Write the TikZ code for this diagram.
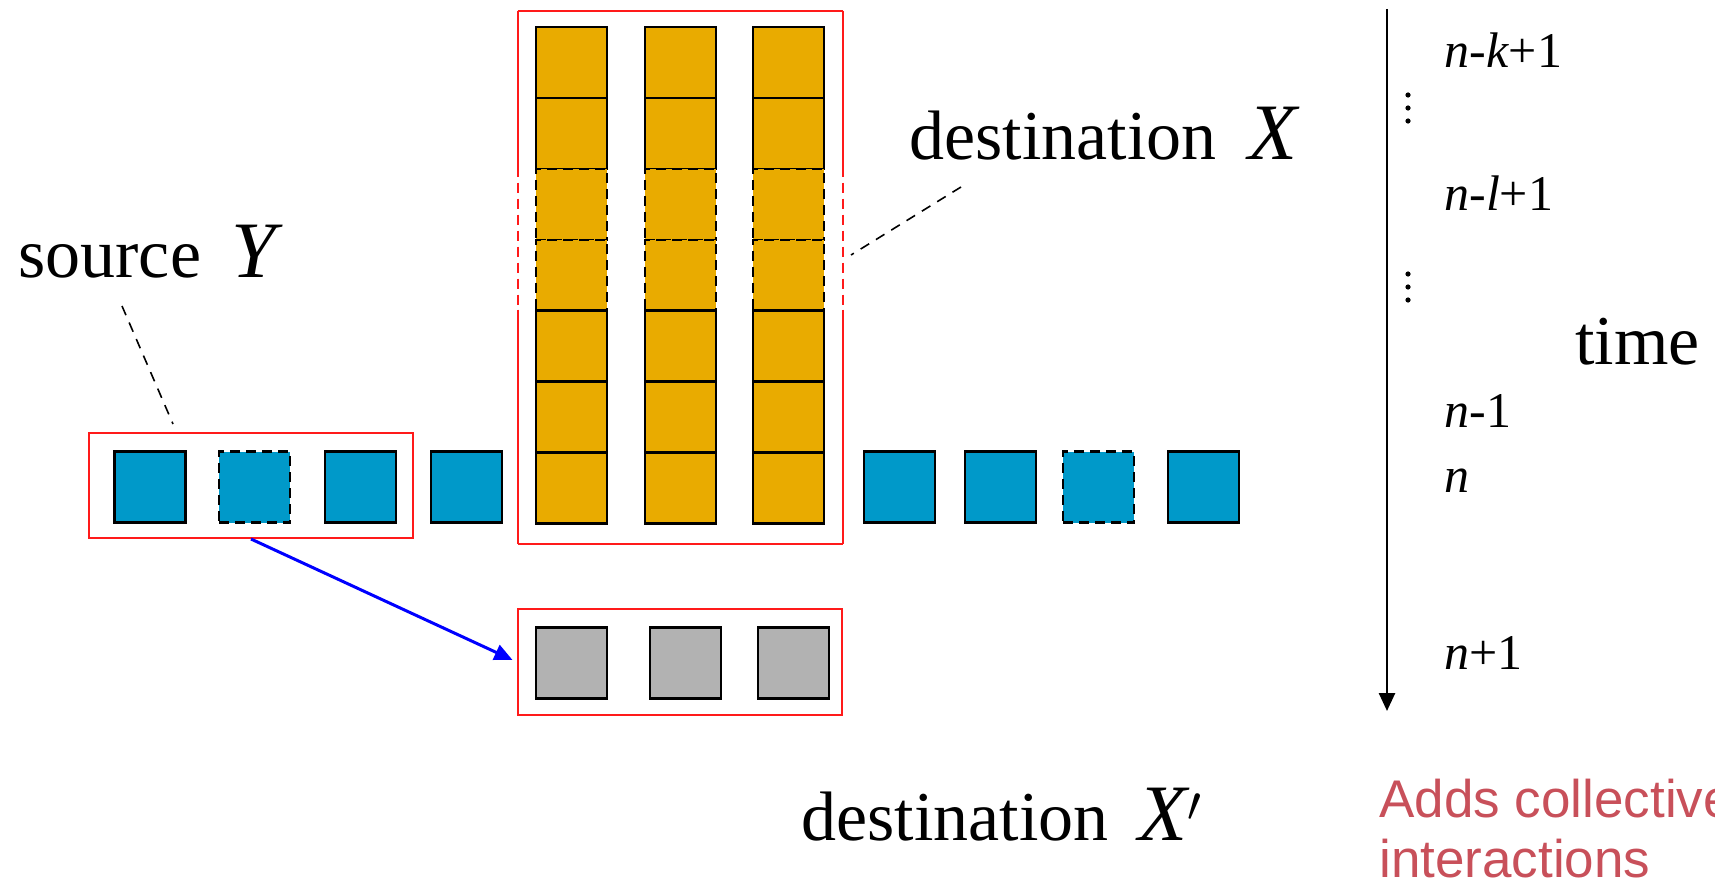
\documentclass[tikz,border=0pt]{standalone}
\usepackage{fontspec}
\setmainfont{Liberation Serif}
\newfontfamily\notefont{Liberation Sans}
\usetikzlibrary{arrows.meta,positioning,calc}
\definecolor{srcblue}{HTML}{0099C9}
\definecolor{dstgold}{HTML}{E9AB00}
\definecolor{outgray}{HTML}{B2B2B2}
\definecolor{framered}{HTML}{FF1A1A}
\definecolor{notered}{HTML}{C8505A}
\newcommand\varsym[1]{{\fontsize{40}{48}\selectfont\itshape #1}}

\begin{document}
\begin{tikzpicture}[x=0.5pt,y=-0.5pt,
 cell/.style={draw=black,line width=1.2pt,minimum size=35.5pt,inner sep=0pt},
 srccell/.style={cell,fill=srcblue},
 dstcell/.style={cell,fill=dstgold},
 outcell/.style={cell,fill=outgray},
 gapped/.style={dash pattern=on 5pt off 3pt},
 redframe/.style={draw=framered,line width=1pt,inner sep=0pt},
 leadline/.style={line width=0.8pt,dash pattern=on 5pt off 4pt},
 bigtext/.style={font=\fontsize{35}{42}\selectfont,anchor=base west,inner sep=0pt},
 timetext/.style={font=\fontsize{25}{30}\selectfont,anchor=base west,inner sep=0pt},
 notetext/.style={font=\notefont\fontsize{26.5}{30}\selectfont,text=notered,anchor=base west,inner sep=0pt}]
\useasboundingbox (0,0) rectangle (1715,883);
\foreach \i/\x/\look in {1/150/solid,2/254.5/gapped,3/360.5/solid,4/466.5/solid,5/899.5/solid,6/1000.5/solid,7/1098.5/gapped,8/1203.5/solid}
 \node[srccell,\look] (y\i) at (\x,487) {};
\foreach \c/\x in {1/571.5,2/680.5,3/788.5} {
 \foreach \r in {1,...,7} {
  \ifnum\r=3 \def\look{gapped}\else\ifnum\r=4 \def\look{gapped}\else\def\look{solid}\fi\fi
  \node[dstcell,\look] (x\c\r) at (\x,{62.5+70.9*(\r-1)}) {};
 }
}
\foreach \i/\x in {1/571.5,2/685.5,3/793.5}
 \node[outcell] (g\i) at (\x,663) {};
\node[redframe,minimum width=162pt,minimum height=52.5pt] (srcbox) at (251,485.5) {};
\node[redframe,minimum width=162pt,minimum height=53pt] (outbox) at (680,662) {};
\node[inner sep=0pt,minimum width=162.5pt,minimum height=266.5pt] (dstbox) at (680.5,277.5) {};
\draw[framered,line width=1pt] (dstbox.north west) -- (dstbox.north east) (dstbox.south west) -- (dstbox.south east);
\foreach \t/\b in {north west/south west,north east/south east} {
 \draw[framered,line width=1pt] (dstbox.\t) -- ++(0,156) coordinate (dashtop) ++(0,143) coordinate (dashbot) -- (dstbox.\b);
 \draw[framered,line width=1pt,gapped] (dashtop) -- (dashbot);
}
\draw[blue,line width=1.5pt,-{Triangle[length=9pt,width=8pt]},shorten >=2.5pt] (srcbox.south) -- (outbox.west);
\node[bigtext] (srcname) at (18,278) {source\hspace{15pt}\varsym{Y}};
\node[bigtext] (dstname) at (909,160) {destination\hspace{16pt}\varsym{X}};
\node[bigtext] (outname) at (801,840) {destination\hspace{15pt}\varsym{X$'$}};
\coordinate (srctag) at (122,306);
\coordinate (srcpin) at (173,424);
\draw[leadline] (srctag) -- (srcpin);
\coordinate (dsttag) at (961,187);
\coordinate (dstpin) at (851,255);
\draw[leadline] (dsttag) -- (dstpin);
\coordinate (tstart) at (1387,9);
\coordinate (tend) at (1387,711);
\draw[line width=1.3pt,-{Triangle[length=9pt,width=8pt]}] (tstart) -- (tend);
\foreach \name/\y/\txt in {tk/68/{\textit{n}-\textit{k}+1},tl/211/{\textit{n}-\textit{l}+1},tprev/427/{\textit{n}-1},tnow/492/{\textit{n}},tnext/669/{\textit{n}+1}}
 \node[timetext] (\name) at (1444,\y) {\txt};
\foreach \y in {95,108,121,274,287,300}
 \fill (1408,\y) circle[radius=1.3pt];
\node[bigtext] (timeword) at (1575,364) {time};
\node[notetext] (notea) at (1379,817) {Adds collective};
\node[notetext] (noteb) at (1379,877) {interactions};
\end{tikzpicture}
\end{document}
